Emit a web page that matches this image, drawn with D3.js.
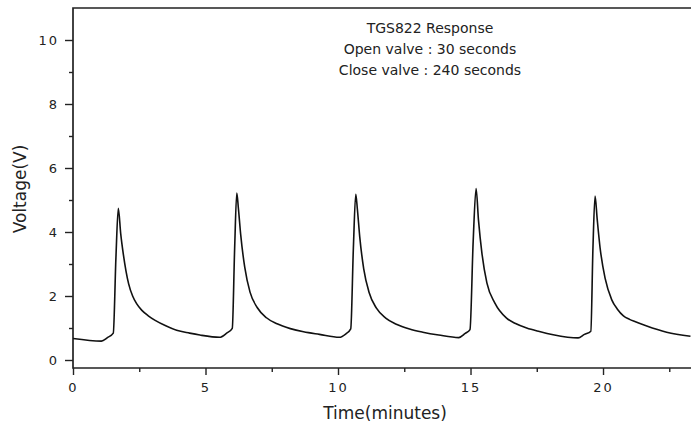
<!DOCTYPE html>
<html>
<head>
<meta charset="utf-8">
<script src="https://cdn.jsdelivr.net/npm/d3@7"></script>
<style>
    body { margin: 0; background: #fff; }
    svg text { font-family: "DejaVu Sans", Verdana, sans-serif; fill: #222; }
</style>
</head>
<body>
<div id="chart"></div>
<script>
// sensor trace: [time (min), voltage (V)]
var trace = [
    [0.00, 0.67], [1.07, 0.59], [1.30, 0.70], [1.52, 0.84], [1.62, 3.20], [1.71, 4.74],
    [1.80, 3.95], [1.90, 3.30], [2.00, 2.78], [2.10, 2.38], [2.25, 2.00], [2.40, 1.76],
    [2.60, 1.55], [2.84, 1.38], [3.10, 1.24], [3.50, 1.07], [3.91, 0.93], [4.40, 0.84],
    [4.79, 0.78], [5.53, 0.71],
    [5.80, 0.84], [6.01, 0.99], [6.10, 3.50], [6.18, 5.22], [6.24, 4.75], [6.33, 3.90],
    [6.48, 2.90], [6.68, 2.12], [6.95, 1.64], [7.30, 1.32], [7.70, 1.13], [8.20, 0.98],
    [8.70, 0.88], [9.30, 0.80], [10.05, 0.71],
    [10.30, 0.82], [10.48, 0.97], [10.58, 3.50], [10.67, 5.18], [10.73, 4.72], [10.82, 3.85],
    [10.97, 2.85], [11.17, 2.12], [11.45, 1.62], [11.80, 1.31], [12.20, 1.12], [12.70, 0.97],
    [13.20, 0.87], [13.80, 0.78], [14.56, 0.70],
    [14.80, 0.83], [14.98, 0.95], [15.10, 3.70], [15.21, 5.36], [15.30, 4.38], [15.43, 3.34],
    [15.62, 2.40], [15.92, 1.78], [16.36, 1.31], [16.70, 1.14], [17.12, 1.00], [17.60, 0.89],
    [18.12, 0.79], [19.06, 0.69],
    [19.30, 0.80], [19.54, 0.90], [19.62, 3.50], [19.70, 5.12], [19.78, 4.40], [19.89, 3.50],
    [20.08, 2.55], [20.33, 1.88], [20.55, 1.58], [20.77, 1.38], [21.00, 1.27], [21.20, 1.20],
    [21.65, 1.06], [22.40, 0.87], [23.30, 0.74]
];

var xTicks = [0, 5, 10, 15, 20],
    xMinorTicks = [2.5, 7.5, 12.5, 17.5, 22.5],
    yTicks = [0, 2, 4, 6, 8, 10],
    yMinorTicks = [1, 3, 5, 7, 9];

var noteLines = ["TGS822 Response", "Open valve : 30 seconds", "Close valve : 240 seconds"];

var width = 691,
    height = 433,
    margin = { top: 8, right: 0, bottom: 65, left: 73 };

var x = d3.scaleLinear().domain([0, 23.32]).range([margin.left, width - margin.right]),
    y = d3.scaleLinear().domain([-0.25, 11.0]).range([height - margin.bottom, margin.top]);

var svg = d3.select("#chart").append("svg")
    .attr("width", width)
    .attr("height", height);

// frame: left, bottom and top lines
svg.append("path")
    .attr("d", "M" + x.range()[1] + "," + y.range()[1] +
        "H" + x.range()[0] + "V" + y.range()[0] + "H" + x.range()[1])
    .attr("fill", "none")
    .attr("stroke", "#222")
    .attr("stroke-width", 1.7);

function styleAxis(g) {
    g.select(".domain").remove();
    g.selectAll(".tick line").attr("stroke", "#222").attr("stroke-width", 1.4);
    g.selectAll(".tick text")
        .attr("font-size", 13)
        .attr("letter-spacing", "2px")
        .attr("fill", "#222");
}

svg.append("g")
    .attr("transform", "translate(0," + y.range()[0] + ")")
    .call(d3.axisBottom(x).tickValues(xTicks).tickSize(7).tickPadding(8).tickFormat(d3.format("d")))
    .call(styleAxis);

svg.append("g")
    .attr("transform", "translate(0," + y.range()[0] + ")")
    .call(d3.axisBottom(x).tickValues(xMinorTicks).tickSize(4).tickFormat(""))
    .call(styleAxis);

svg.append("g")
    .attr("transform", "translate(" + x.range()[0] + ",0)")
    .call(d3.axisLeft(y).tickValues(yTicks).tickSize(8).tickPadding(6).tickFormat(d3.format("d")))
    .call(styleAxis);

svg.append("g")
    .attr("transform", "translate(" + x.range()[0] + ",0)")
    .call(d3.axisLeft(y).tickValues(yMinorTicks).tickSize(4).tickFormat(""))
    .call(styleAxis);

// the trace
var line = d3.line()
    .x(function (d) { return x(d[0]); })
    .y(function (d) { return y(d[1]); })
    .curve(d3.curveMonotoneX);

svg.append("path")
    .datum(trace)
    .attr("d", line)
    .attr("fill", "none")
    .attr("stroke", "#111")
    .attr("stroke-width", 1.6)
    .attr("stroke-linejoin", "round");

// axis titles
svg.append("text")
    .attr("x", 385)
    .attr("y", 419)
    .attr("text-anchor", "middle")
    .attr("font-size", 17)
    .text("Time(minutes)");

svg.append("text")
    .attr("transform", "translate(26,189) rotate(-90)")
    .attr("text-anchor", "middle")
    .attr("font-size", 17)
    .text("Voltage(V)");

// note in the upper part
svg.append("g").selectAll("text")
    .data(noteLines)
    .enter()
    .append("text")
    .attr("x", 430)
    .attr("y", function (d, i) { return 33 + i * 21; })
    .attr("text-anchor", "middle")
    .attr("font-size", 14)
    .text(function (d) { return d; });
</script>
</body>
</html>
